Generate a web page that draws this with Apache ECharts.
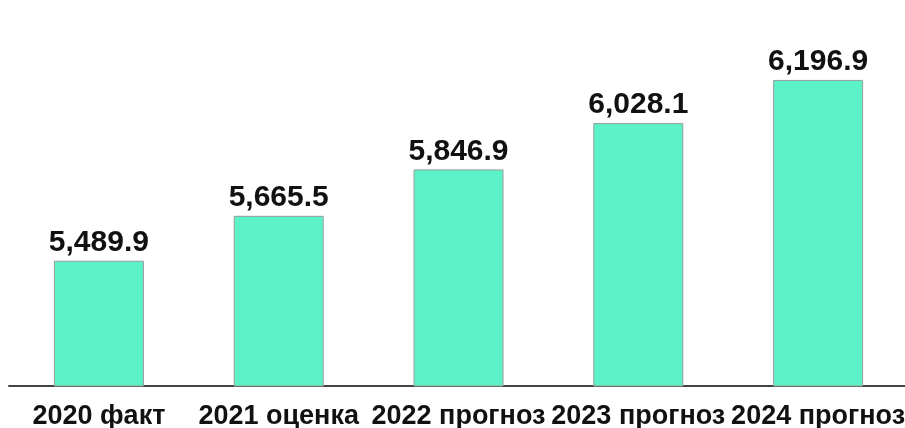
<!DOCTYPE html>
<html>
<head>
<meta charset="utf-8">
<script src="https://cdn.jsdelivr.net/npm/echarts@6/dist/echarts.min.js"></script>
<style>
  html, body { margin: 0; padding: 0; background: #fff; }
  #chart { width: 905px; height: 428px; }
</style>
</head>
<body>
<div id="chart"></div>
<script>
var categories = ['2020 факт', '2021 оценка', '2022 прогноз', '2023 прогноз', '2024 прогноз'];
var values = [5489.9, 5665.5, 5846.9, 6028.1, 6196.9];
var yMin = 5000;
var yMax = 6400;

function fmt(v) {
    var parts = v.toFixed(1).split('.');
    return parts[0].replace(/\B(?=(\d{3})+(?!\d))/g, ',') + '.' + parts[1];
}

var myChart = echarts.init(document.getElementById('chart'));

var option = {
    backgroundColor: '#ffffff',
    animation: false,
    grid: {
        left: 9,
        width: 899,
        top: 28,
        bottom: 42,
        containLabel: false,
        outerBoundsMode: 'none'
    },
    xAxis: {
        type: 'category',
        data: categories,
        axisTick: { show: false },
        axisLine: { lineStyle: { color: '#444', width: 2 } },
        axisLabel: {
            interval: 0,
            margin: 17,
            color: '#111',
            fontFamily: 'Liberation Sans',
            fontWeight: 'bold',
            fontSize: 27,
            hideOverlap: false
        }
    },
    yAxis: {
        type: 'value',
        min: yMin,
        max: yMax,
        show: false,
        splitLine: { show: false }
    },
    series: [{
        type: 'bar',
        data: values,
        barWidth: 90,
        itemStyle: {
            color: '#5cf2c8',
            borderColor: '#9a9a9a',
            borderWidth: 1
        },
        label: {
            show: true,
            position: 'top',
            distance: 3,
            color: '#111',
            fontFamily: 'Liberation Sans',
            fontWeight: 'bold',
            fontSize: 30,
            formatter: function (p) { return fmt(p.value); }
        }
    }]
};

myChart.setOption(option);
</script>
</body>
</html>
